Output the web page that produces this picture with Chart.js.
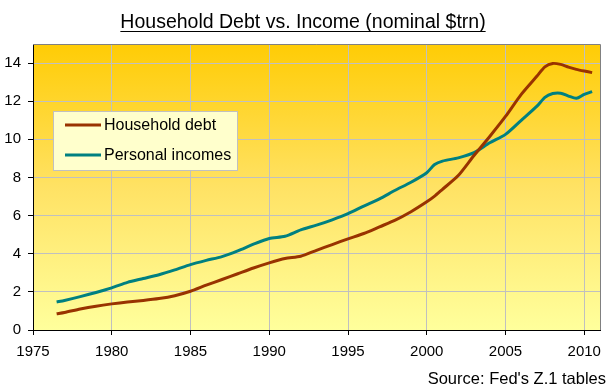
<!DOCTYPE html>
<html>
<head>
<meta charset="utf-8">
<script src="https://cdn.jsdelivr.net/npm/chart.js@4/dist/chart.umd.min.js"></script>
<style>
  html, body { margin: 0; padding: 0; background: #fff; }
  canvas { display: block; }
</style>
</head>
<body>
<canvas id="chart" width="615" height="390"></canvas>
<script>
// values ($ trillion, nominal)
const years = [1976.5, 1977, 1978, 1979, 1980, 1981, 1982, 1983, 1984, 1985,
    1986, 1987, 1988, 1989, 1990, 1991, 1992, 1993, 1994, 1995,
    1996, 1997, 1998, 1999, 2000, 2000.5, 2001, 2002, 2003, 2004,
    2005, 2006, 2007, 2007.5, 2008, 2008.5, 2009, 2009.5, 2010, 2010.5]
const householdDebt = [0.85, 0.92, 1.1, 1.25, 1.37, 1.47, 1.55, 1.65, 1.8, 2.03,
    2.35, 2.65, 2.95, 3.25, 3.52, 3.75, 3.87, 4.18, 4.48, 4.78,
    5.06, 5.41, 5.76, 6.2, 6.72, 7.02, 7.38, 8.1, 9.15, 10.15,
    11.2, 12.36, 13.32, 13.8, 13.98, 13.93, 13.79, 13.67, 13.58, 13.5]
const personalIncomes = [1.47, 1.55, 1.75, 1.97, 2.21, 2.5, 2.7, 2.9, 3.15, 3.43,
    3.65, 3.85, 4.15, 4.5, 4.8, 4.92, 5.25, 5.5, 5.78, 6.1,
    6.5, 6.88, 7.33, 7.75, 8.25, 8.68, 8.86, 9.03, 9.3, 9.82,
    10.26, 11.0, 11.74, 12.2, 12.4, 12.42, 12.27, 12.15, 12.36, 12.5]

const seriesLabels = ['Household debt', 'Personal incomes']
const chartTitle = 'Household Debt vs. Income (nominal $trn)'
const sourceNote = "Source: Fed's Z.1 tables"

const FONT = "'Liberation Sans', Arial, sans-serif"

const toPoints = (vals) => years.map((x, i) => ({ x: x, y: vals[i] }))

// background gradient, frame, legend box, title and source line
const chartFrame = {
    id: 'chartFrame',
    beforeDraw(chart) {
        const { ctx, chartArea: a } = chart
        const g = ctx.createLinearGradient(0, a.top, 0, a.bottom)
        g.addColorStop(0, '#ffcc05')
        g.addColorStop(0.5, '#ffe264')
        g.addColorStop(1, '#ffff9c')
        ctx.save()
        ctx.fillStyle = g
        ctx.fillRect(a.left, a.top, a.right - a.left, a.bottom - a.top)
        ctx.restore()
    },
    afterDraw(chart) {
        const { ctx, chartArea: a } = chart
        ctx.save()
        // grey frame top and right
        ctx.strokeStyle = '#808080'
        ctx.lineWidth = 1
        ctx.beginPath()
        ctx.moveTo(a.left, a.top + 0.5)
        ctx.lineTo(a.right + 0.5, a.top + 0.5)
        ctx.lineTo(a.right + 0.5, a.bottom)
        ctx.stroke()

        // legend box
        const lx = 53, ly = 111, lw = 184, lh = 59
        ctx.fillStyle = '#ffffcc'
        ctx.fillRect(lx, ly, lw, lh)
        ctx.strokeStyle = '#c0c0c0'
        ctx.strokeRect(lx + 0.5, ly + 0.5, lw, lh)
        ctx.font = '16px ' + FONT
        ctx.textBaseline = 'middle'
        ctx.textAlign = 'left'
        chart.data.datasets.forEach((ds, i) => {
            const y = 125 + i * 30
            ctx.strokeStyle = ds.borderColor
            ctx.lineWidth = 3
            ctx.beginPath()
            ctx.moveTo(65, y)
            ctx.lineTo(101, y)
            ctx.stroke()
            ctx.fillStyle = '#000'
            ctx.fillText(ds.label, 104, y + 1)
        })

        // title, underlined
        ctx.font = '19.5px ' + FONT
        ctx.fillStyle = '#000'
        ctx.textAlign = 'center'
        ctx.textBaseline = 'alphabetic'
        ctx.fillText(chartTitle, 303, 28)
        const w = ctx.measureText(chartTitle).width
        ctx.strokeStyle = '#000'
        ctx.lineWidth = 1
        ctx.beginPath()
        ctx.moveTo(303 - w / 2, 31.5)
        ctx.lineTo(303 + w / 2, 31.5)
        ctx.stroke()

        // source note
        ctx.font = '16.5px ' + FONT
        ctx.textAlign = 'right'
        ctx.fillText(sourceNote, 606, 384)
        ctx.restore()
    },
}

new Chart(document.getElementById('chart').getContext('2d'), {
    type: 'line',
    data: {
        datasets: [
            {
                label: seriesLabels[0],
                data: toPoints(householdDebt),
                borderColor: '#993300',
                borderWidth: 3,
                pointRadius: 0,
                tension: 0.25,
                fill: false,
            },
            {
                label: seriesLabels[1],
                data: toPoints(personalIncomes),
                borderColor: '#008080',
                borderWidth: 3,
                pointRadius: 0,
                tension: 0.25,
                fill: false,
            },
        ],
    },
    options: {
        responsive: false,
        animation: false,
        layout: { padding: { top: 44, right: 15, left: 0, bottom: 0 } },
        plugins: {
            legend: { display: false },
            title: { display: false },
            tooltip: { enabled: false },
        },
        scales: {
            x: {
                type: 'linear',
                min: 1975,
                max: 2011,
                afterFit: (scale) => { scale.height = 60 },
                grid: { color: '#c0c0c0', tickColor: '#000', tickLength: 5 },
                border: { color: '#000', width: 1 },
                ticks: {
                    stepSize: 5,
                    includeBounds: false,
                    maxRotation: 0,
                    padding: 8,
                    color: '#000',
                    font: { family: FONT, size: 15 },
                    callback: (v) => String(v),
                },
            },
            y: {
                min: 0,
                max: 15,
                afterFit: (scale) => { scale.width = 33 },
                grid: { color: '#c0c0c0', tickColor: '#000', tickLength: 5 },
                border: { color: '#000', width: 1 },
                ticks: {
                    stepSize: 2,
                    includeBounds: false,
                    padding: 7,
                    color: '#000',
                    font: { family: FONT, size: 15 },
                },
            },
        },
    },
    plugins: [chartFrame],
})
</script>
</body>
</html>
